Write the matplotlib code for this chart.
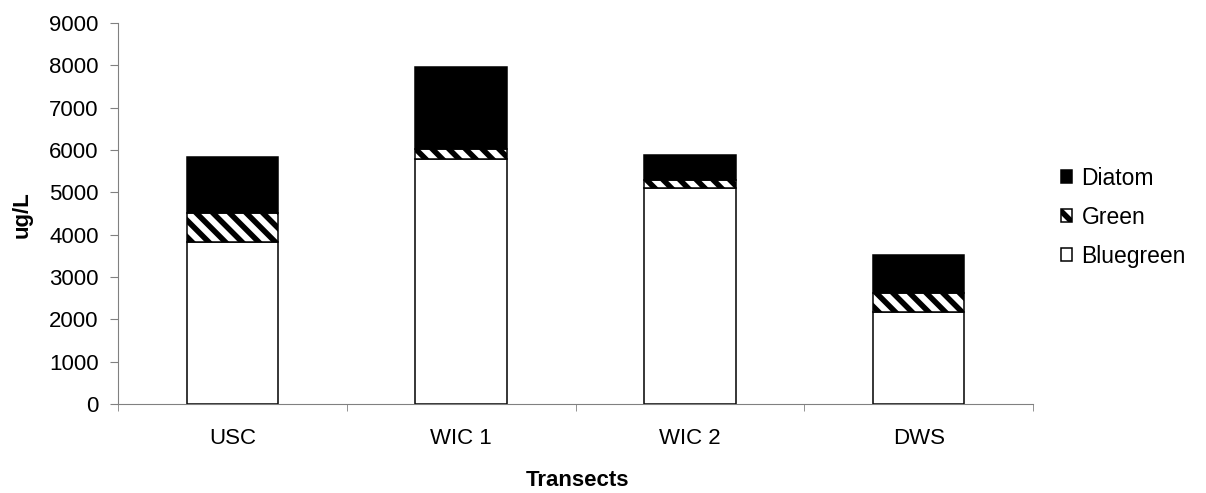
import matplotlib

matplotlib.use("Agg")
import matplotlib.pyplot as plt
import numpy as np

# Phytoplankton biomass by transect (ug/L).
TRANSECTS = ["USC", "WIC 1", "WIC 2", "DWS"]
BLUEGREEN = [3820, 5780, 5100, 2180]
GREEN = [700, 250, 180, 440]
DIATOM = [1320, 1940, 600, 910]

Y_TICKS = [0, 1000, 2000, 3000, 4000, 5000, 6000, 7000, 8000, 9000]

plt.rcParams["font.family"] = ["Liberation Sans", "DejaVu Sans"]
plt.rcParams["hatch.linewidth"] = 4.0
plt.rcParams["hatch.color"] = "black"

fig = plt.figure(figsize=(12.06, 4.93), dpi=100)
ax = fig.add_axes([0.0978, 0.1805, 0.7588, 0.7728])

x = np.arange(len(TRANSECTS))
width = 0.4
bg = np.array(BLUEGREEN)
gr = np.array(GREEN)

ax.bar(x, BLUEGREEN, width, color="white", edgecolor="black", linewidth=1.1,
       label="Bluegreen")
ax.bar(x, GREEN, width, bottom=bg, color="white", edgecolor="black",
       hatch="\\\\", linewidth=1.1, label="Green")
ax.bar(x, DIATOM, width, bottom=bg + gr, color="black", edgecolor="black",
       linewidth=1.1, label="Diatom")

ax.set_xlim(-0.5, len(TRANSECTS) - 0.5)
ax.set_ylim(0, 9000)
ax.set_yticks(Y_TICKS)
ax.set_xticks(x)
ax.set_xticklabels(TRANSECTS)
ax.set_xticks(np.arange(-0.5, len(TRANSECTS)), minor=True)
ax.tick_params(axis="x", which="major", length=0, pad=17, labelsize=16)
ax.tick_params(axis="x", which="minor", length=5, color="#808080", direction="out")
ax.tick_params(axis="y", length=6, color="#808080", labelsize=16, pad=8)

for side in ("top", "right"):
    ax.spines[side].set_visible(False)
for side in ("left", "bottom"):
    ax.spines[side].set_color("#808080")

# axis titles placed in figure coordinates to sit where the original has them
fig.text(578 / 1206, 1 - 480 / 493, "Transects", fontsize=16, fontweight="bold",
         ha="center", va="center")
fig.text(22 / 1206, 1 - 215 / 493, "ug/L", fontsize=16, fontweight="bold",
         rotation=90, ha="center", va="center")

handles, labels = ax.get_legend_handles_labels()
ax.legend(handles[::-1], labels[::-1], loc="center left",
          bbox_to_anchor=(1.018, 0.49), frameon=False, fontsize=16.5,
          handlelength=0.5, handleheight=0.5, handletextpad=0.4,
          labelspacing=0.7, borderpad=0)

fig.savefig("out.png", dpi=100)
